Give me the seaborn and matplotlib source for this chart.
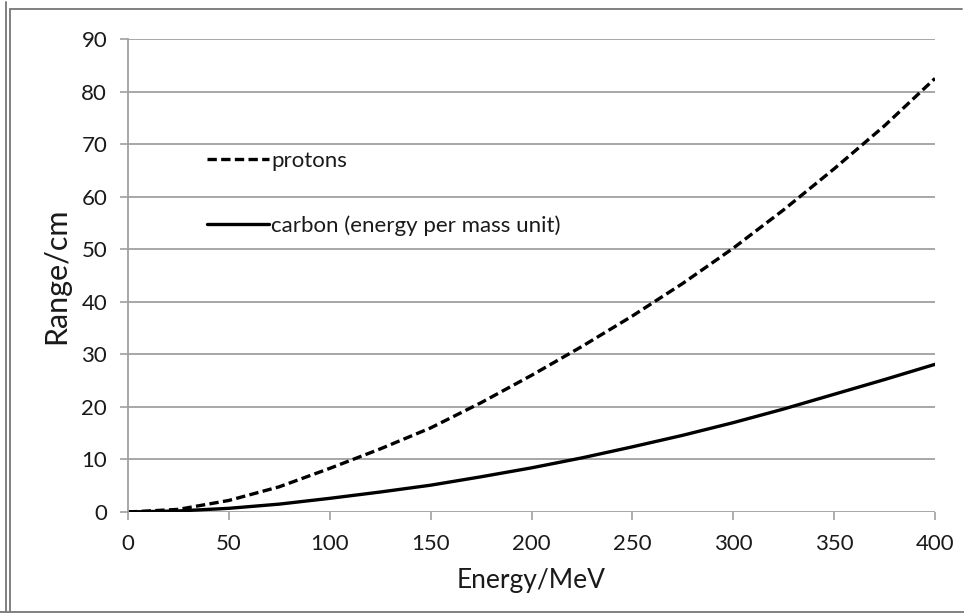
import matplotlib
matplotlib.use("Agg")
import matplotlib.pyplot as plt
from matplotlib.lines import Line2D
import seaborn as sns
import pandas as pd

energy = [0, 25, 50, 75, 100, 125, 150, 175, 200, 225, 250, 275, 300, 325, 350, 375, 400]
protons = [0, 0.5, 2.2, 4.8, 8.3, 12.0, 16.0, 20.8, 26.0, 31.5, 37.3, 43.5, 50.2, 57.5, 65.3, 73.5, 82.5]
carbon = [0, 0.2, 0.7, 1.5, 2.6, 3.8, 5.1, 6.7, 8.4, 10.3, 12.4, 14.6, 17.0, 19.6, 22.4, 25.2, 28.1]
x_ticks = [0, 50, 100, 150, 200, 250, 300, 350, 400]
y_ticks = [0, 10, 20, 30, 40, 50, 60, 70, 80, 90]

sns.set_theme(style="white")
plt.rcParams["font.family"] = ["Lato", "DejaVu Sans"]

fig = plt.figure(figsize=(9.64, 6.15), dpi=100)
ax = fig.add_axes([128 / 964, 1 - 512 / 615, (935 - 128) / 964, (512 - 39) / 615])

df = pd.DataFrame({"energy": energy, "protons": protons, "carbon": carbon})
sns.lineplot(data=df, x="energy", y="protons", ax=ax, color="black", lw=2.4,
             label="protons", dashes=False)
ax.lines[-1].set_dashes((2.8, 1.3))
sns.lineplot(data=df, x="energy", y="carbon", ax=ax, color="black", lw=2.4,
             label="carbon (energy per mass unit)")

text_c = "#1a1a1a"
ax.set_xlim(0, 400)
ax.set_ylim(0, 90)
ax.set_xticks(x_ticks)
ax.set_yticks(y_ticks)
ax.set_xticklabels([str(t) for t in x_ticks], fontsize=16)
ax.set_yticklabels([str(t) for t in y_ticks], fontsize=16)

grid_c = "#a0a0a0"
ax.yaxis.grid(True, color=grid_c, lw=1.3)
ax.xaxis.grid(False)
ax.set_axisbelow(True)
for s in ["top", "right", "bottom"]:
    ax.spines[s].set_visible(False)
ax.spines["left"].set_color(grid_c)
ax.spines["left"].set_linewidth(1.3)
ax.tick_params(axis="both", which="both", length=6, width=1.2, color=grid_c,
               direction="out", labelcolor=text_c)
ax.tick_params(axis="y", left=True, pad=9)
ax.tick_params(axis="x", bottom=True, pad=10)

ax.set_xlabel("Energy/MeV", fontsize=19, labelpad=10, color=text_c)
ax.set_ylabel("Range/cm", fontsize=22, labelpad=8, color=text_c)

leg = ax.legend(loc="upper left", bbox_to_anchor=((207 - 128) / 807, (512 - 151) / 473),
                frameon=False, fontsize=16, handlelength=2.8, handletextpad=0.1,
                labelspacing=2.0, borderpad=0, borderaxespad=0)
for t in leg.get_texts():
    t.set_color(text_c)

# page frame around the figure
frame_c = "#808080"
fw, fh = 964, 615
for xs, ys in [
    ([6, 6], [2, 612]),
    ([10, 10], [9, 612]),
    ([10, 962], [9, 9]),
    ([0, 964], [612, 612]),
]:
    fig.add_artist(Line2D([x / fw for x in xs], [1 - y / fh for y in ys],
                          color=frame_c, lw=1.4, transform=fig.transFigure))

fig.savefig("out.png", dpi=100)
